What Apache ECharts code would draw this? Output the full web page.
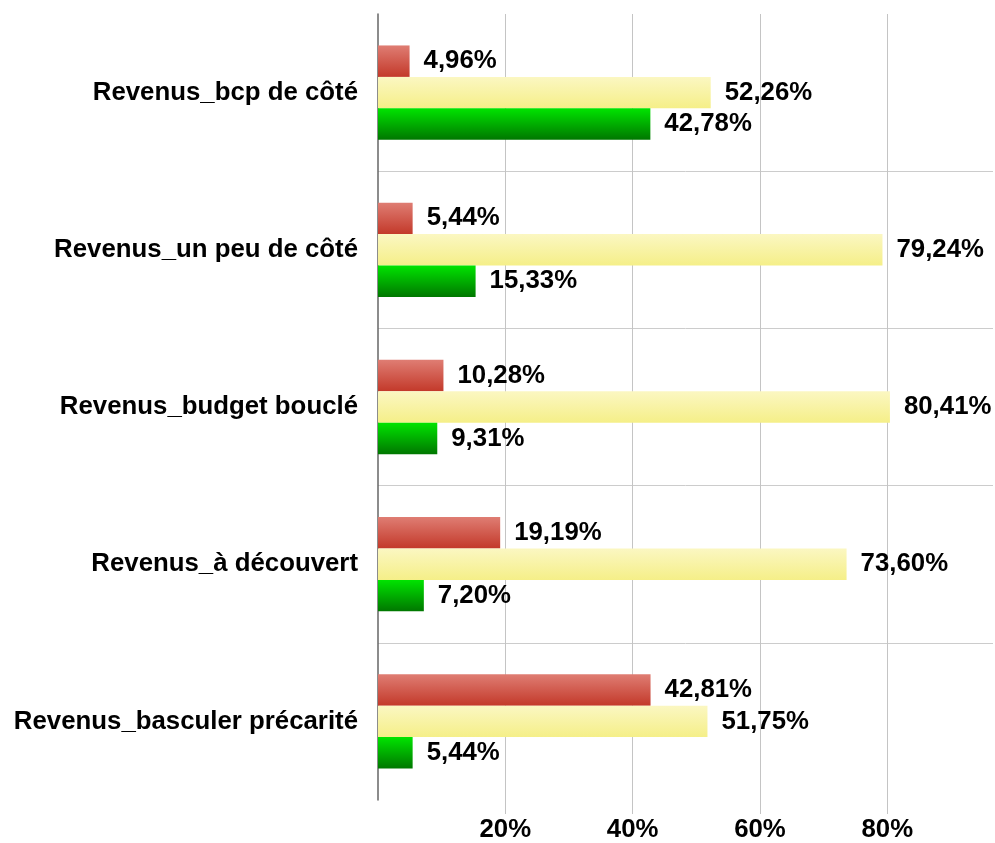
<!DOCTYPE html>
<html>
<head>
<meta charset="utf-8">
<title>Revenus</title>
<script src="https://cdn.jsdelivr.net/npm/echarts@6/dist/echarts.min.js"></script>
<style>
  html, body { margin: 0; padding: 0; background: #ffffff; }
  #chart { width: 995px; height: 843px; }
</style>
</head>
<body>
<div id="chart"></div>
<script>
// Categories, top to bottom
const categories = [
  'Revenus_bcp de côté',
  'Revenus_un peu de côté',
  'Revenus_budget bouclé',
  'Revenus_à découvert',
  'Revenus_basculer précarité'
];

// Shares (%) per category
const redValues    = [4.96, 5.44, 10.28, 19.19, 42.81];
const yellowValues = [52.26, 79.24, 80.41, 73.60, 51.75];
const greenValues  = [42.78, 15.33, 9.31, 7.20, 5.44];

// Value axis range and step
const axisMin = 0;
const axisMax = 96.6;
const axisStep = 20;

const FONT = '"Liberation Sans", Arial, sans-serif';
const TEXT_SIZE = 25.8;

function pct(v) {
  return v.toFixed(2).replace('.', ',') + '%';
}

function vGrad(top, bottom) {
  return new echarts.graphic.LinearGradient(0, 0, 0, 1, [
    { offset: 0, color: top },
    { offset: 1, color: bottom }
  ]);
}

function barSeries(name, values, top, bottom) {
  return {
    name: name,
    type: 'bar',
    xAxisIndex: 0,
    yAxisIndex: 0,
    data: values,
    barGap: '0%',
    barCategoryGap: '40%',
    itemStyle: { color: vGrad(top, bottom) },
    label: {
      show: true,
      position: 'right',
      distance: 14,
      formatter: p => pct(p.value),
      color: '#000',
      fontFamily: FONT,
      fontWeight: 'bold',
      fontSize: TEXT_SIZE
    }
  };
}

const chart = echarts.init(document.getElementById('chart'), null, { renderer: 'canvas' });

chart.setOption({
  backgroundColor: '#ffffff',
  animation: false,
  grid: [
    { left: 378, right: 2, top: 14, bottom: 43, containLabel: false },
    { left: 378, right: 2, top: 14, bottom: 28, containLabel: false }
  ],
  xAxis: [
    {
      type: 'value', gridIndex: 0,
      min: axisMin, max: axisMax, interval: axisStep,
      axisLine: { show: false }, axisTick: { show: false },
      axisLabel: { show: false }, splitLine: { show: false }
    },
    {
      type: 'value', gridIndex: 1,
      min: axisMin, max: axisMax, interval: axisStep,
      axisLine: { show: false }, axisTick: { show: false },
      splitLine: {
        show: true, showMinLine: false, showMaxLine: false,
        lineStyle: { color: '#c4c4c4', width: 1 }
      },
      axisLabel: {
        show: true, showMinLabel: false, showMaxLabel: false,
        margin: 3,
        formatter: v => (v % axisStep === 0 ? v + '%' : ''),
        color: '#000', fontFamily: FONT, fontWeight: 'bold', fontSize: TEXT_SIZE
      }
    }
  ],
  yAxis: [
    {
      type: 'category', gridIndex: 0,
      data: categories, inverse: true,
      axisLine: { show: true, lineStyle: { color: '#666666', width: 1.5 } },
      axisTick: { show: false },
      splitLine: {
        show: true, interval: 0, showMinLine: false, showMaxLine: false,
        lineStyle: { color: '#cccccc', width: 1 }
      },
      axisLabel: {
        margin: 20, interval: 0,
        color: '#000', fontFamily: FONT, fontWeight: 'bold', fontSize: TEXT_SIZE
      }
    },
    { type: 'value', gridIndex: 1, show: false }
  ],
  series: [
    barSeries('Rouge', redValues, '#df7d73', '#c3392a'),
    barSeries('Jaune', yellowValues, '#fbf7c2', '#f5ef88'),
    barSeries('Vert', greenValues, '#00e400', '#007700')
  ]
});
</script>
</body>
</html>
